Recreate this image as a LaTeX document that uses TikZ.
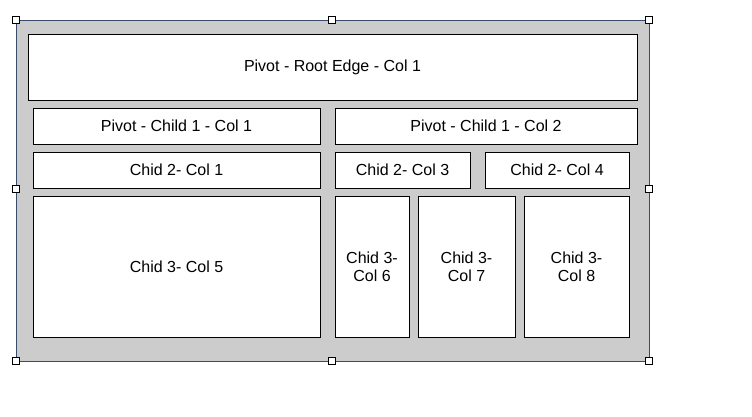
\documentclass[tikz,border=0pt]{standalone}
\usepackage{fontspec}
\setmainfont{Liberation Sans}
\usepackage{xcolor}
\definecolor{panelgray}{HTML}{CCCCCC}
\definecolor{paneledge}{HTML}{3A4A6A}

\begin{document}
\begin{tikzpicture}[
  x=1pt, y=-1pt,
  font=\fontsize{16}{18}\selectfont,
  cell/.style={draw=black, fill=white, line width=0.9pt, align=center, inner sep=2pt},
  rowone/.style={cell, minimum height=36pt},
  rowtwo/.style={cell, minimum height=141pt},
  grip/.style={draw=black, fill=white, line width=0.5pt}
]
\useasboundingbox (0,0) rectangle (752,416);

%--------------------------------------------------------------
% Pannello grigio
%--------------------------------------------------------------
\filldraw[fill=panelgray, draw=paneledge, line width=0.6pt] (16,20) rectangle (649,361);

%--------------------------------------------------------------
% Intestazione pivot
%--------------------------------------------------------------
\node[cell, minimum width=609pt, minimum height=66pt] (root) at (332.5,67) {Pivot - Root Edge - Col 1};

\node[rowone, minimum width=287pt] (pc1) at (176.5,126) {Pivot - Child 1 - Col 1};
\node[rowone, minimum width=302pt] (pc2) at (486,126) {Pivot - Child 1 - Col 2};

%--------------------------------------------------------------
% Secondo livello
%--------------------------------------------------------------
\node[rowone, minimum width=287pt] (ch2a) at (176.5,170) {Chid 2- Col 1};
\node[rowone, minimum width=135pt] (ch2b) at (402.5,170) {Chid 2- Col 3};
\node[rowone, minimum width=144pt] (ch2c) at (557,170) {Chid 2- Col 4};

%--------------------------------------------------------------
% Terzo livello
%--------------------------------------------------------------
\node[rowtwo, minimum width=287pt] (ch3a) at (176.5,266.5) {Chid 3- Col 5};
\node[rowtwo, minimum width=74pt]  (ch3b) at (372,266.5)   {Chid 3-\\ Col 6};
\node[rowtwo, minimum width=97pt]  (ch3c) at (466.5,266.5) {Chid 3-\\ Col 7};
\node[rowtwo, minimum width=105pt] (ch3d) at (576.5,266.5) {Chid 3-\\ Col 8};

%--------------------------------------------------------------
% Maniglie di selezione
%--------------------------------------------------------------
\foreach \gx/\gy in {16/20, 332/20, 649/20, 16/189, 649/189, 16/361, 332/361, 649/361}{
  \filldraw[grip] (\gx-3.5,\gy-3.5) rectangle (\gx+3.5,\gy+3.5);
}

\end{tikzpicture}
\end{document}
